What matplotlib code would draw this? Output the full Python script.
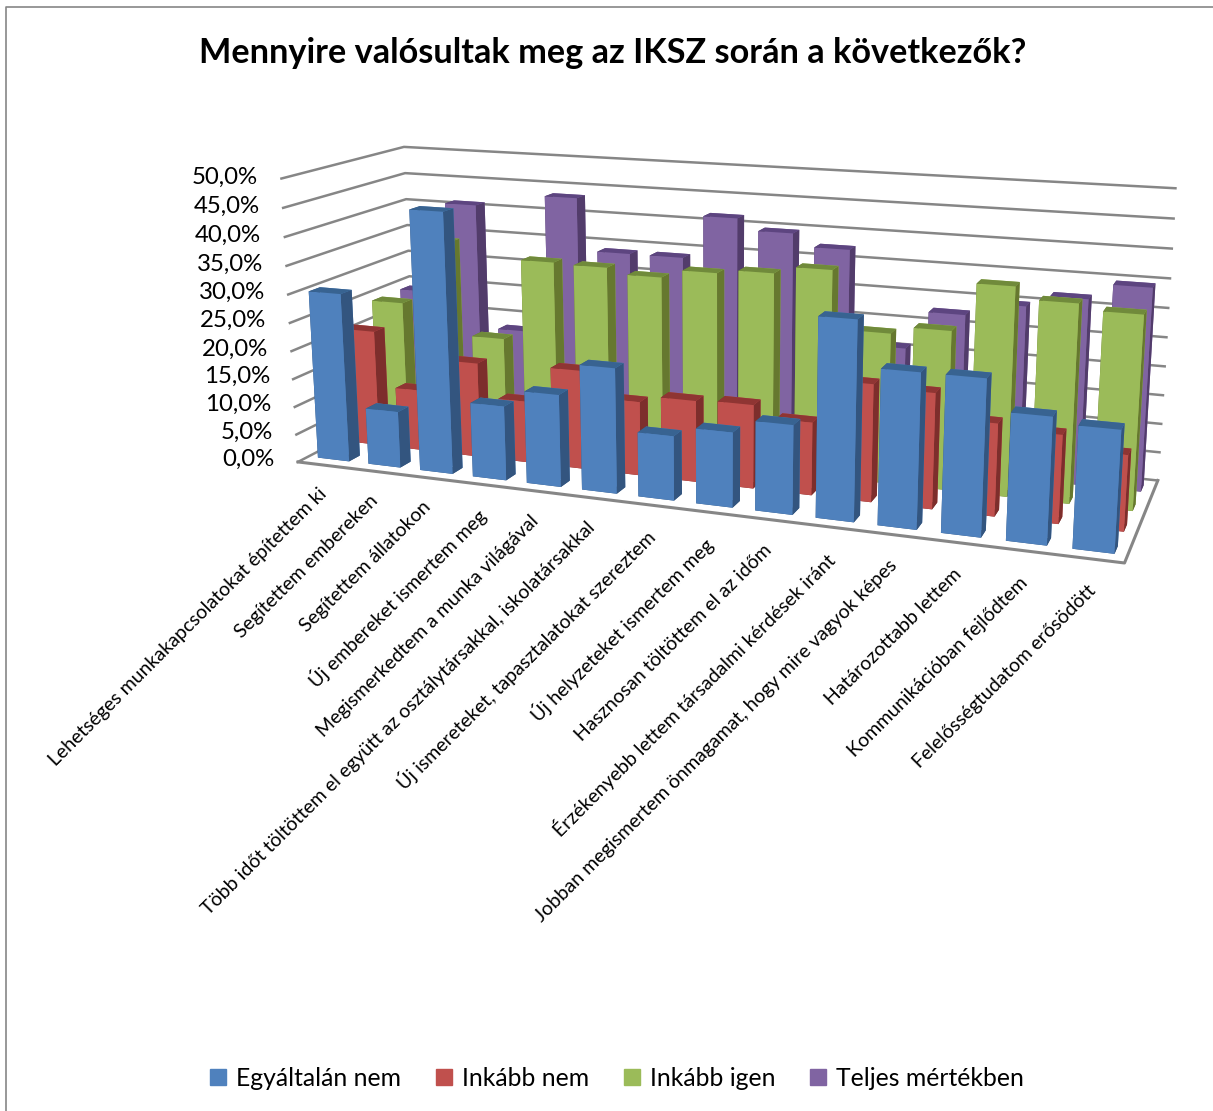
import numpy as np
import matplotlib
matplotlib.use("Agg")
import matplotlib.pyplot as plt
from matplotlib.lines import Line2D
from matplotlib.patches import Patch
from mpl_toolkits.mplot3d import proj3d

categories = ["Lehetséges munkakapcsolatokat építettem ki", "Segítettem embereken", "Segítettem állatokon",
              "Új embereket ismertem meg", "Megismerkedtem a munka világával",
              "Több időt töltöttem el együtt az osztálytársakkal, iskolatársakkal",
              "Új ismereteket, tapasztalatokat szereztem", "Új helyzeteket ismertem meg",
              "Hasznosan töltöttem el az időm", "Érzékenyebb lettem társadalmi kérdések iránt",
              "Jobban megismertem önmagamat, hogy mire vagyok képes", "Határozottabb lettem",
              "Kommunikációban fejlődtem", "Felelősségtudatom erősödött"]
series_names = ["Egyáltalán nem", "Inkább nem", "Inkább igen", "Teljes mértékben"]
egyaltalan = [30, 10, 45.5, 13, 16, 21.5, 11, 12.7, 15, 33, 25.5, 25.5, 20.5, 19.5]
inkabb_nem = [21, 11, 17, 11, 17.5, 13, 14.2, 14.5, 12.5, 20, 19.5, 15.5, 14.7, 12.5]
inkabb_igen = [24, 36, 19, 33.7, 33.5, 32.5, 34, 34.7, 36, 26, 27.3, 35.5, 33.5, 32.5]
teljes = [24, 41, 18, 43.5, 34, 34, 41.7, 39.7, 37.5, 21, 27.7, 30, 32, 34.7]
z_ticks = [0, 5, 10, 15, 20, 25, 30, 35, 40, 45, 50]

values = [egyaltalan, inkabb_nem, inkabb_igen, teljes]
# front, side, top
front_colors = ["#4F81BD", "#C0504D", "#9BBB59", "#8064A2"]
side_colors = ["#33557F", "#7D2E2C", "#66782F", "#523C6B"]
top_colors = ["#386391", "#8F3533", "#708A3B", "#5D4580"]
grid_color = "#868686"

plt.rcParams['font.family'] = ['Lato', 'DejaVu Sans']

fig = plt.figure(figsize=(12.13, 11.11), dpi=100)
W, H = 1213.0, 1111.0
cx, cy = 706, 345
side = 1111.0
ax = fig.add_axes([(cx - side / 2) / W, (H - cy - side / 2) / H, side / W, side / H],
                  projection='3d', computed_zorder=False)
ax.patch.set_alpha(0)

bar_w = 0.62
bar_d = 0.35
n = len(categories)
for row in range(3, -1, -1):
    for i in range(n):
        face = [side_colors[row], top_colors[row], front_colors[row], front_colors[row],
                side_colors[row], side_colors[row]]
        ax.bar3d(i + (1 - bar_w) / 2, row + (1 - bar_d) / 2, 0, bar_w, bar_d, values[row][i],
                 color=face, shade=False, linewidth=0, edgecolor='none',
                 zorder=10 + (3 - row) * 100 + i)

for z in z_ticks:
    ax.plot([0, 0, n], [0, 4, 4], [z, z, z], color=grid_color, lw=1.8, zorder=2)
ax.plot([0, n, n], [0, 0, 4], [0, 0, 0], color=grid_color, lw=2.2, zorder=2)

ax.set_xlim(0, n)
ax.set_ylim(0, 4)
ax.set_zlim(0, 50)
ax.set_proj_type('persp', focal_length=0.3)
ax.view_init(elev=13.7, azim=-70)
ax.set_box_aspect((2.78, 0.8, 0.975), zoom=0.81)
ax.set_axis_off()


def label2d(x, y, z, s, **kw):
    # Text3D ignores rotation, so project the point by hand
    px, py, _ = proj3d.proj_transform(x, y, z, ax.get_proj())
    ax.text2D(px, py, s, transform=ax.transData, **kw)


for z in z_ticks:
    label2d(-0.46, 0, z, f"{z:.1f}".replace('.', ',') + '%', ha='right', va='center',
            fontsize=17.3, color='black')
for i, label in enumerate(categories):
    label2d(i + 0.5, -0.2, -3, label, rotation=45, ha='right', va='top',
            rotation_mode='anchor', fontsize=14, color='black')

fig.text(613 / W, 1 - 53 / H, "Mennyire valósultak meg az IKSZ során a következők?",
         ha='center', va='center', fontsize=24.7, fontweight='bold')
handles = [Patch(color=c, label=s) for c, s in zip(front_colors, series_names)]
fig.legend(handles=handles, loc='center', bbox_to_anchor=(617 / W, 1 - 1078 / H), ncol=4,
           frameon=False, fontsize=17.8, handlelength=0.65, handleheight=0.65,
           handletextpad=0.4, columnspacing=1.4)
fig.add_artist(Line2D([6 / W, 6 / W, 1], [0, 1 - 7 / H, 1 - 7 / H], color=grid_color, lw=1.2))

fig.savefig("out.png", dpi=100)
